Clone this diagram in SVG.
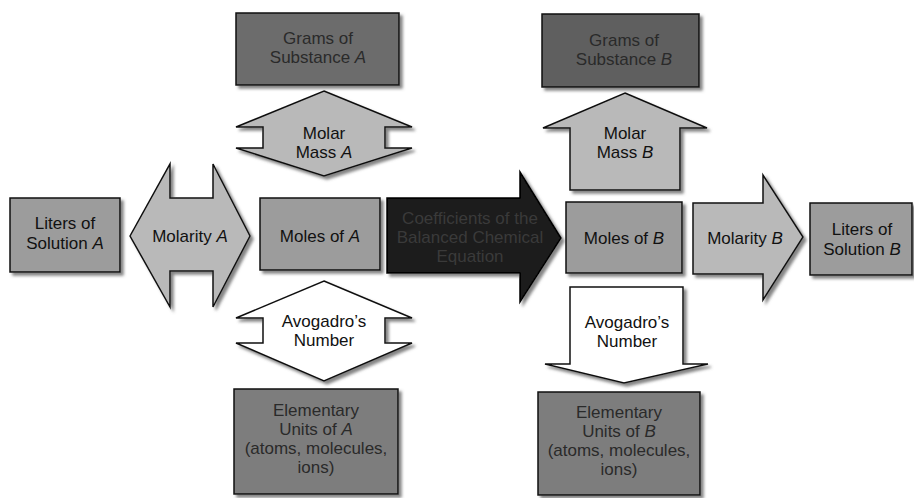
<svg xmlns="http://www.w3.org/2000/svg" width="914" height="498" viewBox="0 0 914 498">
<defs>
<filter id="sh" x="-10%" y="-10%" width="125%" height="125%">
<feDropShadow dx="3" dy="3" stdDeviation="1.5" flood-color="#666" flood-opacity="0.8"/>
</filter>
</defs>
<style>
.box{stroke:#111;stroke-width:1.5;filter:url(#sh)}
.mid{fill:#9c9c9c}
.dark{fill:#5f5f5f}
.elem{fill:#7d7d7d}
.arr{fill:#b9b9b9;stroke:#111;stroke-width:1.5;stroke-linejoin:miter;filter:url(#sh)}
.white{fill:#ffffff}
.big{fill:#1a1a1a;stroke:#000;stroke-width:1.5;filter:url(#sh)}
text{font-family:"Liberation Sans",Arial,sans-serif;font-size:17px;fill:#111;text-anchor:middle}
.dt{fill:#2a2a2a}
.bt{fill:#3a3a3a}
</style>
<rect width="914" height="498" fill="#ffffff"/>
<g id="connectors">
<g id="molarMassA">
<polygon class="arr" points="324,91 412,127 385,127 385,148 412,148 324,176 236,148 263,148 263,127 236,127"/>
<text x="324" y="139">Molar</text>
<text x="324" y="158">Mass <tspan font-style="italic">A</tspan></text>
</g>
<g id="molarityA">
<polygon class="arr" points="130,236 170,164 170,198 213,198 213,164 250,236 213,307 213,271 170,271 170,307"/>
<text x="190" y="242">Molarity <tspan font-style="italic">A</tspan></text>
</g>
<g id="avogadroA">
<polygon class="arr white" points="324,281 412,318 385,318 385,343 412,343 324,381 236,343 263,343 263,318 236,318"/>
<text x="324" y="327">Avogadro’s</text>
<text x="324" y="346">Number</text>
</g>
<g id="coefficients">
<polygon class="big" points="387,198 520,198 520,172 561,238 520,302 520,273 387,273"/>
<text class="bt" x="470" y="224">Coefficients of the</text>
<text class="bt" x="470" y="243">Balanced Chemical</text>
<text class="bt" x="470" y="262">Equation</text>
</g>
<g id="molarMassB">
<polygon class="arr" points="625,93 707,128 680,128 680,190 570,190 570,128 543,128"/>
<text x="625" y="139">Molar</text>
<text x="625" y="158">Mass <tspan font-style="italic">B</tspan></text>
</g>
<g id="molarityB">
<polygon class="arr" points="693,203 763,203 763,175 803,237 763,300 763,274 693,274"/>
<text x="745" y="244">Molarity <tspan font-style="italic">B</tspan></text>
</g>
<g id="avogadroB">
<polygon class="arr white" points="570,287 683,287 683,364 708,364 624,383 545,364 570,364"/>
<text x="627" y="328">Avogadro’s</text>
<text x="627" y="347">Number</text>
</g>
</g>
<g id="gramsA">
<rect class="box dark" x="236" y="13" width="163" height="72" style="fill:#6c6c6c"/>
<text class="dt" x="318" y="44">Grams of</text>
<text class="dt" x="318" y="63">Substance <tspan font-style="italic">A</tspan></text>
</g>
<g id="gramsB">
<rect class="box dark" x="542" y="14" width="157" height="73"/>
<text class="dt" x="624" y="46">Grams of</text>
<text class="dt" x="624" y="65">Substance <tspan font-style="italic">B</tspan></text>
</g>
<g id="litersA">
<rect class="box mid" x="10" y="198" width="110" height="74"/>
<text x="65" y="229">Liters of</text>
<text x="65" y="249">Solution <tspan font-style="italic">A</tspan></text>
</g>
<g id="molesA">
<rect class="box mid" x="260" y="198" width="120" height="72"/>
<text x="320" y="242">Moles of <tspan font-style="italic">A</tspan></text>
</g>
<g id="molesB">
<rect class="box mid" x="566" y="202" width="116" height="71"/>
<text x="624" y="244">Moles of <tspan font-style="italic">B</tspan></text>
</g>
<g id="litersB">
<rect class="box mid" x="810" y="203" width="102" height="72"/>
<text x="862" y="235">Liters of</text>
<text x="862" y="255">Solution <tspan font-style="italic">B</tspan></text>
</g>
<g id="elemA">
<rect class="box elem" x="234" y="389" width="164" height="105"/>
<text class="dt" x="316" y="416">Elementary</text>
<text class="dt" x="316" y="435">Units of <tspan font-style="italic">A</tspan></text>
<text class="dt" x="316" y="454">(atoms, molecules,</text>
<text class="dt" x="316" y="473">ions)</text>
</g>
<g id="elemB">
<rect class="box elem" x="538" y="392" width="162" height="103"/>
<text class="dt" x="619" y="418">Elementary</text>
<text class="dt" x="619" y="437">Units of <tspan font-style="italic">B</tspan></text>
<text class="dt" x="619" y="456">(atoms, molecules,</text>
<text class="dt" x="619" y="475">ions)</text>
</g>
</svg>
